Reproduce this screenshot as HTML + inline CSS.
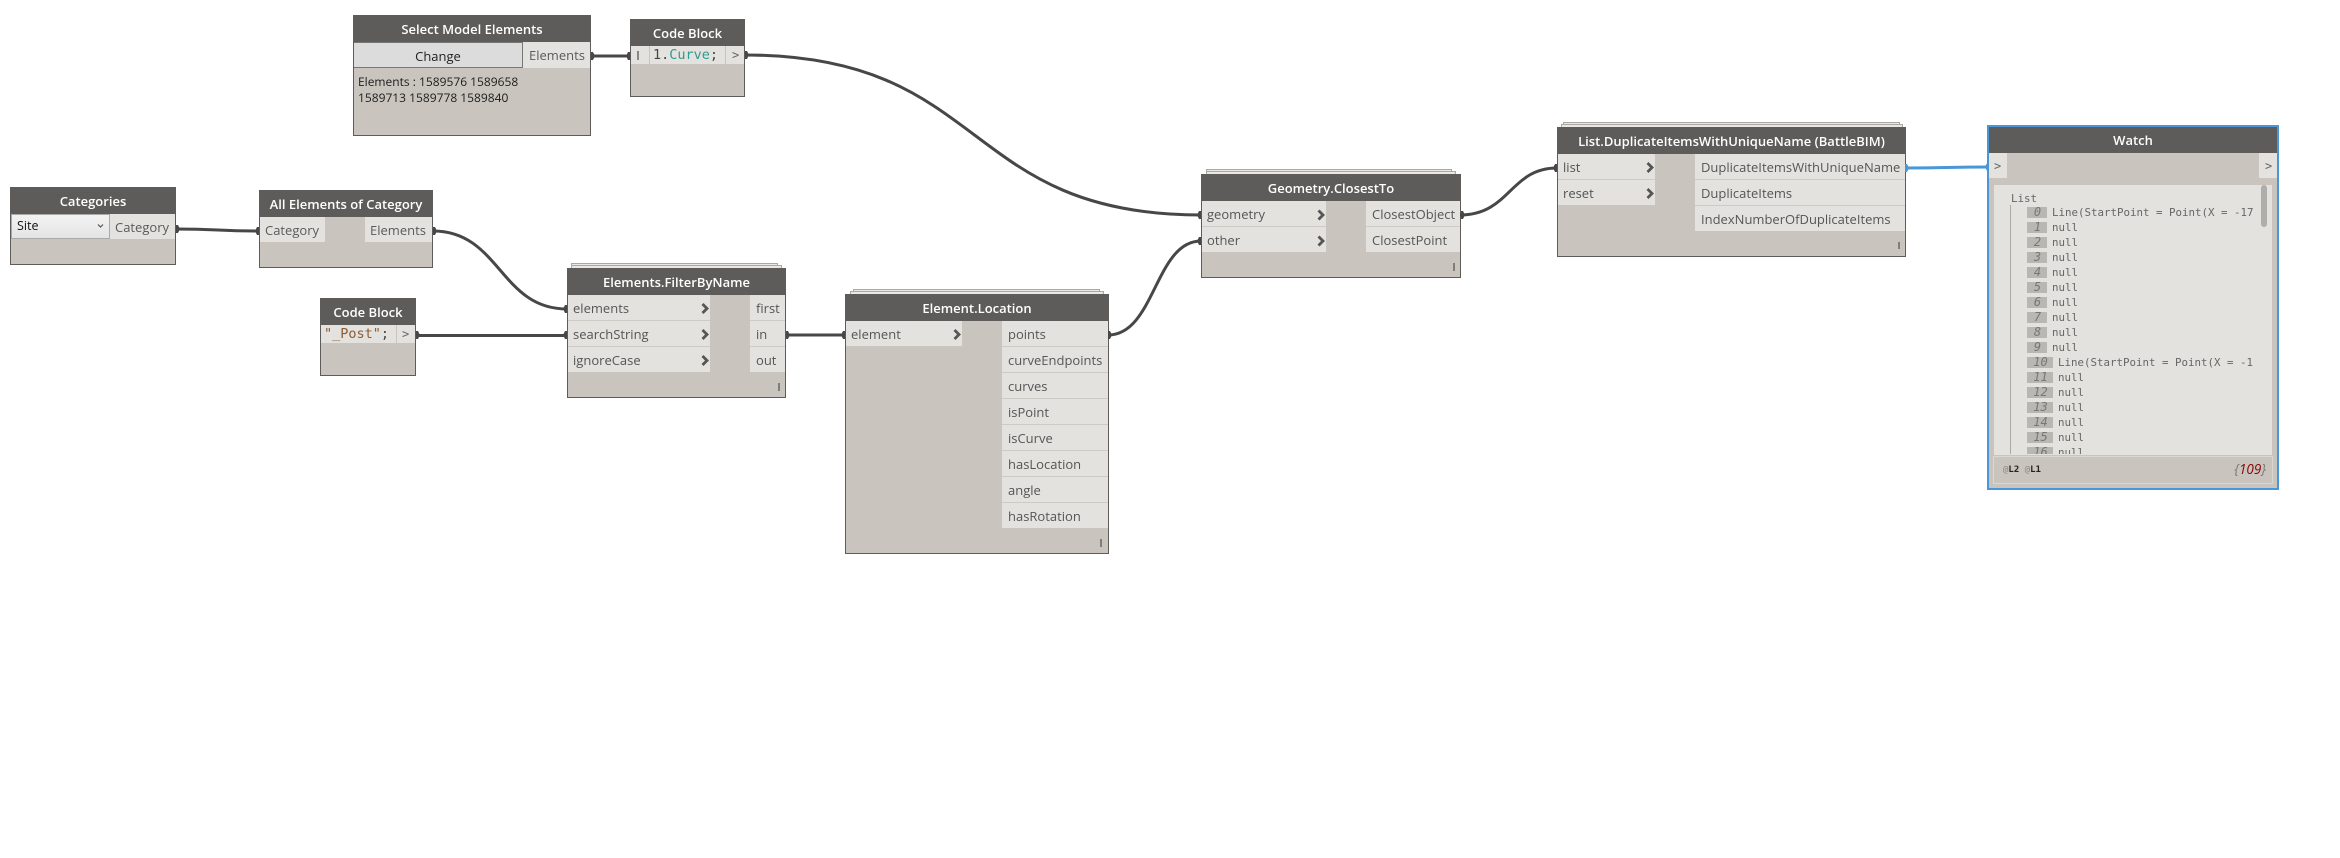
<!DOCTYPE html>
<html><head><meta charset="utf-8"><style>
html,body{margin:0;padding:0;background:#fff}
#c{position:relative;width:2340px;height:858px;overflow:hidden;background:#fff;font-family:"Open Sans","Liberation Sans",sans-serif;font-size:13px;color:#555}
.n{position:absolute;background:#c9c5be;border:1px solid #5e5c5a;box-sizing:border-box}
.h{position:absolute;height:27px;background:#5e5c5a;color:#fff;text-align:center;font-weight:600;font-size:13px;line-height:29px;overflow:hidden;white-space:nowrap}
.p{position:absolute;background:#e3e2de;height:25px;line-height:27px;box-sizing:border-box;padding-left:5px;white-space:nowrap}
.o{padding-left:6px}
.s{position:absolute;background:#e9e8e4;border:1px solid #a9a8a2;box-sizing:border-box}
.m{font-family:"DejaVu Sans Mono","Liberation Mono",monospace}
.a{position:absolute;white-space:nowrap}
.i{position:absolute;left:2027px;height:11px;background:#b9b7b1;color:#777;font:italic 12px/11px "DejaVu Sans Mono",monospace;text-align:center;padding-left:1px;box-sizing:border-box;overflow:hidden}
.t{position:absolute;font:10.8px/15px "DejaVu Sans Mono",monospace;color:#666;white-space:nowrap}
svg{position:absolute;left:0;top:0}
</style></head><body><div id="c">

<!-- stacks -->
<div class="s" style="left:571px;top:263px;width:207px;height:10px"></div>
<div class="s" style="left:571px;top:265px;width:211px;height:10px"></div>
<div class="s" style="left:853px;top:289px;width:247px;height:10px"></div>
<div class="s" style="left:850px;top:291px;width:254px;height:10px"></div>
<div class="s" style="left:1206px;top:169px;width:246px;height:10px"></div>
<div class="s" style="left:1206px;top:171px;width:250px;height:10px"></div>
<div class="s" style="left:1563px;top:122px;width:337px;height:10px"></div>
<div class="s" style="left:1561px;top:124px;width:342px;height:10px"></div>

<!-- Select Model Elements -->
<div class="n" style="left:353px;top:15px;width:238px;height:121px"></div>
<div class="h" style="left:353px;width:238px;top:15px">Select Model Elements</div>
<div class="a" style="left:354px;top:42px;width:169px;height:26px;background:#dcdcdc;border:1px solid #777;border-width:1px 1px 1px 0;box-sizing:border-box;color:#222;text-align:center;line-height:26px">Change</div>
<div class="p" style="left:523px;top:42px;width:67px;padding-left:6px;color:#5a5a5a;height:26px">Elements</div>
<div class="a" style="left:358px;top:74px;color:#1c1c1c;font-size:12px;line-height:16px">Elements : 1589576 1589658<br>1589713 1589778 1589840</div>

<!-- Code Block 1 -->
<div class="n" style="left:630px;top:19px;width:115px;height:78px"></div>
<div class="h" style="left:630px;width:115px;top:19px">Code Block</div>
<div class="p" style="left:631px;top:46px;width:18px;height:18px"></div>
<div class="a" style="left:637px;top:51px;width:1.500px;height:9px;background:#888"></div>
<div class="p m" style="left:650px;top:46px;width:75px;height:18px;line-height:19px;font-size:13.500px;padding-left:3px;color:#444">1.<span style="color:#2f9a8f">Curve</span>;</div>
<div class="p m" style="left:726px;top:46px;width:18px;height:18px;line-height:19px;font-size:12px;padding-left:6px;color:#666">&gt;</div>

<!-- Categories -->
<div class="n" style="left:10px;top:187px;width:166px;height:78px"></div>
<div class="h" style="left:10px;width:166px;top:187px">Categories</div>
<div class="a" style="left:11px;top:214px;width:99px;height:25px;box-sizing:border-box;background:linear-gradient(#f3f3f3,#e4e4e4);border:1px solid #aaa;padding-left:5px;color:#111;font-size:12.500px;line-height:22px">Site</div>
<div class="p" style="left:110px;top:214px;width:65px;padding-left:5px;color:#5a5a5a">Category</div>

<!-- All Elements -->
<div class="n" style="left:259px;top:190px;width:174px;height:78px"></div>
<div class="h" style="left:259px;width:174px;top:190px">All Elements of Category</div>
<div class="p" style="left:260px;top:217px;width:65px;padding-left:5px;color:#5a5a5a">Category</div>
<div class="p" style="left:365px;top:217px;width:67px;padding-left:5px;color:#5a5a5a">Elements</div>

<!-- Code Block 2 -->
<div class="n" style="left:320px;top:298px;width:96px;height:78px"></div>
<div class="h" style="left:320px;width:96px;top:298px">Code Block</div>
<div class="p m" style="left:321px;top:325px;width:75px;height:18px;line-height:19px;font-size:13.500px;padding-left:3px;color:#444"><span style="color:#8c5a35">"_Post"</span>;</div>
<div class="p m" style="left:397px;top:325px;width:18px;height:18px;line-height:19px;font-size:12px;padding-left:5px;color:#666">&gt;</div>

<!-- FilterByName -->
<div class="n" style="left:567px;top:268px;width:219px;height:130px"></div>
<div class="h" style="left:567px;width:219px;top:268px">Elements.FilterByName</div>
<div class="p" style="left:568px;top:295px;width:142px">elements</div>
<div class="p" style="left:568px;top:321px;width:142px">searchString</div>
<div class="p" style="left:568px;top:347px;width:142px">ignoreCase</div>
<div class="p o" style="left:750px;top:295px;width:35px">first</div>
<div class="p o" style="left:750px;top:321px;width:35px">in</div>
<div class="p o" style="left:750px;top:347px;width:35px">out</div>

<!-- Location -->
<div class="n" style="left:845px;top:294px;width:264px;height:260px"></div>
<div class="h" style="left:845px;width:264px;top:294px">Element.Location</div>
<div class="p" style="left:846px;top:321px;width:116px">element</div>
<div class="p o" style="left:1002px;top:321px;width:106px">points</div>
<div class="p o" style="left:1002px;top:347px;width:106px">curveEndpoints</div>
<div class="p o" style="left:1002px;top:373px;width:106px">curves</div>
<div class="p o" style="left:1002px;top:399px;width:106px">isPoint</div>
<div class="p o" style="left:1002px;top:425px;width:106px">isCurve</div>
<div class="p o" style="left:1002px;top:451px;width:106px">hasLocation</div>
<div class="p o" style="left:1002px;top:477px;width:106px">angle</div>
<div class="p o" style="left:1002px;top:503px;width:106px">hasRotation</div>

<!-- ClosestTo -->
<div class="n" style="left:1201px;top:174px;width:260px;height:104px"></div>
<div class="h" style="left:1201px;width:260px;top:174px">Geometry.ClosestTo</div>
<div class="p" style="left:1202px;top:201px;width:124px">geometry</div>
<div class="p" style="left:1202px;top:227px;width:124px">other</div>
<div class="p o" style="left:1366px;top:201px;width:94px">ClosestObject</div>
<div class="p o" style="left:1366px;top:227px;width:94px">ClosestPoint</div>

<!-- List.Duplicate -->
<div class="n" style="left:1557px;top:127px;width:349px;height:130px"></div>
<div class="h" style="left:1557px;width:349px;top:127px">List.DuplicateItemsWithUniqueName (BattleBIM)</div>
<div class="p" style="left:1558px;top:154px;width:97px">list</div>
<div class="p" style="left:1558px;top:180px;width:97px">reset</div>
<div class="p o" style="left:1695px;top:154px;width:210px">DuplicateItemsWithUniqueName</div>
<div class="p o" style="left:1695px;top:180px;width:210px">DuplicateItems</div>
<div class="p o" style="left:1695px;top:206px;width:210px">IndexNumberOfDuplicateItems</div>

<!-- Watch -->
<div class="n" style="left:1987px;top:125px;width:292px;height:365px;border:2px solid #4a97d8"></div>
<div class="h" style="left:1989px;width:288px;top:127px;line-height:27px;height:26px">Watch</div>
<div class="p m" style="left:1989px;top:153px;width:18px;font-size:12px;padding-left:5px;color:#666;line-height:26px">&gt;</div>
<div class="p m" style="left:2259px;top:153px;width:18px;font-size:12px;padding-left:6px;color:#666;line-height:26px">&gt;</div>
<div class="a" style="left:1994px;top:185px;width:278px;height:270px;background:#e3e2de"></div>
<div class="a" style="left:2010px;top:205px;width:1px;height:249px;background:#a9a8a2"></div>
<div class="a" style="left:2261px;top:185px;width:6px;height:42px;background:#b0aeaa;border-radius:3px"></div>
<div class="t" style="left:2011px;top:191px">List</div>
<div class="i" style="top:207px;width:20px">0</div><div class="t" style="left:2052px;top:205px">Line(StartPoint = Point(X = -17</div>
<div class="i" style="top:222px;width:20px">1</div><div class="t" style="left:2052px;top:220px">null</div>
<div class="i" style="top:237px;width:20px">2</div><div class="t" style="left:2052px;top:235px">null</div>
<div class="i" style="top:252px;width:20px">3</div><div class="t" style="left:2052px;top:250px">null</div>
<div class="i" style="top:267px;width:20px">4</div><div class="t" style="left:2052px;top:265px">null</div>
<div class="i" style="top:282px;width:20px">5</div><div class="t" style="left:2052px;top:280px">null</div>
<div class="i" style="top:297px;width:20px">6</div><div class="t" style="left:2052px;top:295px">null</div>
<div class="i" style="top:312px;width:20px">7</div><div class="t" style="left:2052px;top:310px">null</div>
<div class="i" style="top:327px;width:20px">8</div><div class="t" style="left:2052px;top:325px">null</div>
<div class="i" style="top:342px;width:20px">9</div><div class="t" style="left:2052px;top:340px">null</div>
<div class="i" style="top:357px;width:26px">10</div><div class="t" style="left:2058px;top:355px">Line(StartPoint = Point(X = -1</div>
<div class="i" style="top:372px;width:26px">11</div><div class="t" style="left:2058px;top:370px">null</div>
<div class="i" style="top:387px;width:26px">12</div><div class="t" style="left:2058px;top:385px">null</div>
<div class="i" style="top:402px;width:26px">13</div><div class="t" style="left:2058px;top:400px">null</div>
<div class="i" style="top:417px;width:26px">14</div><div class="t" style="left:2058px;top:415px">null</div>
<div class="i" style="top:432px;width:26px">15</div><div class="t" style="left:2058px;top:430px">null</div>
<div style="position:absolute;left:2020px;top:445px;width:200px;height:9px;overflow:hidden"><div class="i" style="left:7px;top:2px;width:26px">16</div><div class="t" style="left:38px;top:0">null</div></div>
<div class="a" style="left:1993px;top:456px;width:280px;height:28px;box-sizing:border-box;border:1px solid #dad8d2;background:#c9c5be"></div>
<div class="a" style="left:2003px;top:465px;font:bold 9px/11px 'DejaVu Sans Mono',monospace;color:#222"><span style="color:#888;font-weight:normal">@</span>L2 <span style="color:#888;font-weight:normal">@</span>L1</div>
<div class="a" style="right:74px;top:462px;font:italic 13.500px/15px 'Open Sans','Liberation Sans',sans-serif;color:#8b0000"><span style="color:#777">{</span>109<span style="color:#777">}</span></div>

<svg width="2340" height="858" viewBox="0 0 2340 858" fill="none">
<g stroke="#474747" stroke-width="3">
<path d="M591 56H630"/>
<path d="M745 55C990 55 960 215 1201 215"/>
<path d="M176 229C218 229 218 231 259 231"/>
<path d="M433 231C500 231 500 309 567 309"/>
<path d="M416 335.500H567"/>
<path d="M786 335H845"/>
<path d="M1108 335C1155 335 1155 241 1201 241"/>
<path d="M1460 215C1510 215 1510 168 1557 168"/>
</g>
<path d="M1905 168C1947 168 1947 167 1989 167" stroke="#4a97d8" stroke-width="3"/>
<g fill="#474747">
<path d="M591 52l2 0l2 4l-2 4l-2 0z M630 52l-2 0l-2 4l2 4l2 0z M745 51l2 0l2 4l-2 4l-2 0z M1201 211l-2 0l-2 4l2 4l2 0z M1201 237l-2 0l-2 4l2 4l2 0z"/>
<path d="M176 225l2 0l2 4l-2 4l-2 0z M259 227l-2 0l-2 4l2 4l2 0z M433 227l2 0l2 4l-2 4l-2 0z M567 305l-2 0l-2 4l2 4l2 0z M567 331l-2 0l-2 4l2 4l2 0z M416 331l2 0l2 4l-2 4l-2 0z"/>
<path d="M786 331l2 0l2 4l-2 4l-2 0z M845 331l-2 0l-2 4l2 4l2 0z M1108 331l2 0l2 4l-2 4l-2 0z M1461 211l2 0l2 4l-2 4l-2 0z M1557 164l-2 0l-2 4l2 4l2 0z"/>
</g>
<path d="M1905 164l2 0l2 4l-2 4l-2 0z M1989 163l-2 0l-2 4l2 4l2 0z" fill="#4a97d8"/>
<g stroke="#555" stroke-width="2.800">
<path d="M702.500 304l4.500 4.500l-4.500 4.500M702.500 330l4.500 4.500l-4.500 4.500M702.500 356l4.500 4.500l-4.500 4.500"/>
<path d="M954.500 330l4.500 4.500l-4.500 4.500"/>
<path d="M1318.500 210.500l4.500 4.500l-4.500 4.500M1318.500 236.500l4.500 4.500l-4.500 4.500"/>
<path d="M1647.500 163l4.500 4.500l-4.500 4.500M1647.500 189l4.500 4.500l-4.500 4.500"/>
</g>
<path d="M98 224.500l2.500 2.500l2.500-2.500" stroke="#555" stroke-width="1.200"/>
<path d="M779 383v8M1101 539v8M1454 263v8M1899 242v7" stroke="#666" stroke-width="1.500"/>
<g stroke="#cdcbc5" stroke-width="1">
<path d="M568 320.500H710M568 346.500H710M750 320.500H785M750 346.500H785"/>
<path d="M1002 346.500H1108M1002 372.500H1108M1002 398.500H1108M1002 424.500H1108M1002 450.500H1108M1002 476.500H1108M1002 502.500H1108"/>
<path d="M1202 226.500H1326M1366 226.500H1460M1558 179.500H1655M1695 179.500H1905M1695 205.500H1905"/>
</g>
</svg>
</div></body></html>
